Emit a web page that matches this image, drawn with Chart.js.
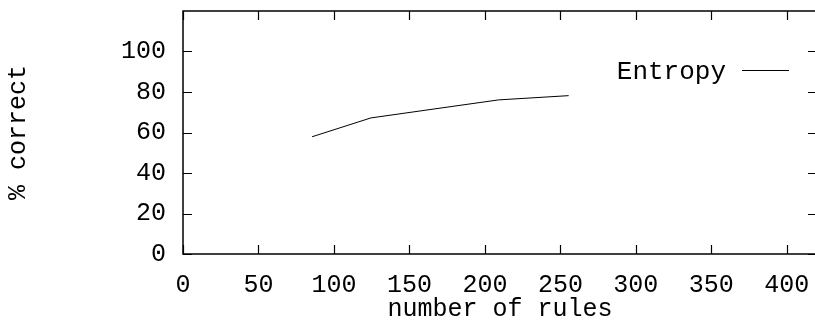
<!DOCTYPE html>
<html>
<head>
<meta charset="utf-8">
<script src="https://cdn.jsdelivr.net/npm/chart.js@4.4.0/dist/chart.umd.min.js"></script>
<style>
body{margin:0;background:#fff;overflow:hidden}
#wrap{width:818px;height:324px}
</style>
</head>
<body>
<div id="wrap"><canvas id="chart" width="818" height="324"></canvas></div>
<script>
const rules = [85.5, 124.5, 209, 255.5]
const entropy = [57.9, 67.2, 76.1, 78.2]
const xTicks = [0, 50, 100, 150, 200, 250, 300, 350, 400]
const yTicks = [0, 20, 40, 60, 80, 100]

const FONT = "'Liberation Mono', 'DejaVu Sans Mono', monospace"

// gnuplot style frame: box, inward ticks (mirrored), legend text then sample line
const frame = {
id:"frame",
afterDraw(chart){
const ctx = chart.ctx
const a = chart.chartArea
const xs = chart.scales.x
const ys = chart.scales.y
const len = 9

ctx.save()
ctx.strokeStyle = "#000"
ctx.lineWidth = 1.5
ctx.strokeRect(a.left, a.top, a.right - a.left, a.bottom - a.top)

ctx.lineWidth = 1.2
ctx.beginPath()
xTicks.forEach(v => {
const px = Math.round(xs.getPixelForValue(v)) + 0.5
ctx.moveTo(px, a.bottom)
ctx.lineTo(px, a.bottom - len)
ctx.moveTo(px, a.top)
ctx.lineTo(px, a.top + len)
})
yTicks.forEach(v => {
const py = Math.round(ys.getPixelForValue(v)) + 0.5
ctx.moveTo(a.left, py)
ctx.lineTo(a.left + len, py)
ctx.moveTo(a.right, py)
ctx.lineTo(a.right - len, py)
})
ctx.stroke()

// key
ctx.font = "26px " + FONT
ctx.fillStyle = "#000"
ctx.textAlign = "right"
ctx.textBaseline = "middle"
ctx.fillText("Entropy", 726, 72)
ctx.lineWidth = 1
ctx.beginPath()
ctx.moveTo(742, 70.5)
ctx.lineTo(789, 70.5)
ctx.stroke()
ctx.restore()
}
}

new Chart(document.getElementById("chart"),{
type:"line",
data:{
datasets:[{
label:"Entropy",
data:rules.map((r,i) => ({x:r, y:entropy[i]})),
borderColor:"#000",
borderWidth:1,
pointRadius:0,
tension:0,
fill:false
}]
},
options:{
responsive:false,
animation:false,
layout:{padding:{top:11, right:1, left:0, bottom:0}},
plugins:{legend:{display:false}, tooltip:{enabled:false}},
scales:{
x:{
type:"linear",
min:0,
max:420,
afterFit(s){ s.height = 70; s.paddingLeft = 0; s.paddingRight = 0 },
afterBuildTicks(s){ s.ticks = xTicks.map(v => ({value:v})) },
grid:{display:false, drawTicks:false},
border:{display:false},
ticks:{color:"#000", padding:16, maxRotation:0, autoSkip:false, font:{family:FONT, size:25}},
title:{display:true, text:"number of rules", color:"#000", padding:{top:0, bottom:0}, font:{family:FONT, size:25}}
},
y:{
min:0,
max:120,
afterFit(s){ s.width = 183; s.paddingTop = 0; s.paddingBottom = 0 },
afterBuildTicks(s){ s.ticks = yTicks.map(v => ({value:v})) },
grid:{display:false, drawTicks:false},
border:{display:false},
ticks:{color:"#000", padding:17, autoSkip:false, font:{family:FONT, size:25}},
title:{display:true, text:"% correct", color:"#000", padding:{top:3, bottom:0}, font:{family:FONT, size:25}}
}
}
},
plugins:[frame]
})
</script>
</body>
</html>
